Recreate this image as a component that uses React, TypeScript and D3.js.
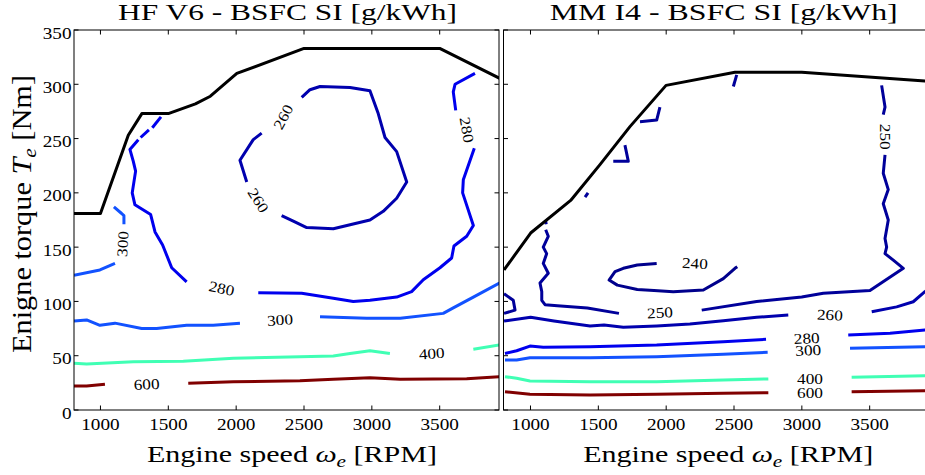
import React from "react";
import * as d3 from "d3";

type Pt = [number, number];

// ---------- axes ----------
const rpmTicks = [1000, 1500, 2000, 2500, 3000, 3500];
const torqueTicks = [0, 50, 100, 150, 200, 250, 300, 350];

// ---------- HF V6 ----------
const hfMaxTorque: Pt[] = [[805, 181], [1000, 181], [1205, 253], [1305, 273], [1500, 273], [1700, 282], [1810, 289], [2005, 310], [2500, 333], [3500, 333], [3950, 305]];
const hf260: Pt[][] = [
  [[2483, 288], [2544, 295], [2618, 298], [2839, 297], [2986, 294], [3047, 273], [3097, 251], [3183, 238], [3257, 210], [3183, 195], [3084, 183], [2986, 175], [2716, 167], [2520, 168], [2421, 174], [2335, 179]],
  [[2078, 210], [2028, 230], [2126, 249], [2188, 255]],
];
const hf280: Pt[][] = [
  [[1446, 270], [1382, 260]],
  [[1357, 258], [1296, 251]],
  [[1279, 249], [1217, 240], [1242, 229], [1259, 220], [1234, 200], [1254, 189], [1370, 180], [1402, 164], [1458, 152], [1525, 131], [1635, 118]],
  [[2163, 108], [2483, 107.5], [2716, 103], [2863, 100], [2986, 101], [3183, 104], [3293, 109], [3379, 120], [3502, 131], [3588, 140], [3605, 151], [3699, 160], [3748, 170], [3669, 200], [3674, 212], [3755, 241]],
  [[3618, 276], [3600, 293], [3613, 300], [3760, 310]],
];
const hf300: Pt[][] = [
  [[1099, 187], [1156, 181], [1173, 179], [1173, 171]],
  [[1107, 135], [996, 129], [805, 124]],
  [[805, 82], [898, 83], [996, 78], [1107, 80], [1304, 75], [1414, 75], [1635, 78], [1831, 78], [2028, 80]],
  [[2618, 86], [2962, 84.5], [3209, 84.5], [3526, 89], [3600, 94], [3748, 104], [3940, 117]],
];
const hf400: Pt[][] = [
  [[805, 43], [898, 42.4], [1242, 44.5], [1610, 45], [1979, 47.6], [2470, 49], [2716, 49.7], [2839, 52], [2986, 54.6], [3133, 52]],
  [[3748, 56], [3940, 60]],
];
const hf600: Pt[][] = [
  [[805, 22], [898, 22], [1033, 23.7]],
  [[1647, 24.6], [1979, 26], [2470, 27], [2716, 28.3], [2986, 29.8], [3209, 28.3], [3699, 28.8], [3940, 30.7]],
];
const hfLabelText = ["260", "260", "280", "300", "280", "300", "400", "600"];
const hfLabelRpm = [2347, 2163, 3699, 1164, 1893, 2323, 3441, 1340];
const hfLabelTorque = [270, 193, 258, 153, 112, 83, 52, 23.7];
const hfLabelAngle = [-62, 58, 80, -86, 12, -4, -4, -3];

// ---------- MM I4 ----------
const mmMaxTorque: Pt[] = [[805, 129], [1001, 163], [1296, 193], [1512, 226], [1733, 261], [1999, 299], [2507, 311], [2999, 311], [3907, 303], [4040, 302]];
const mm240: Pt[][] = [
  [[1930, 135], [1787, 133.5], [1684, 130.5], [1623, 127.4], [1579, 119.7], [1640, 115], [1787, 111], [1910, 110], [2052, 109], [2274, 110.5], [2421, 121], [2507, 130.5], [2524, 132]],
];
const mm250: Pt[][] = [
  [[1110, 175], [1116, 171]],
  [[1112, 166], [1131, 160], [1094, 150], [1119, 144], [1094, 135], [1131, 126], [1070, 117], [1083, 109], [1083, 101], [1107, 97], [1198, 96], [1419, 94], [1652, 89]],
  [[2262, 92], [2667, 100], [2999, 104], [3158, 107.5], [3502, 110], [3748, 130.5], [3674, 138], [3613, 144], [3625, 150], [3613, 158], [3637, 175], [3600, 190], [3637, 203], [3600, 218], [3613, 235]],
  [[3600, 272], [3613, 279], [3588, 299]],
  [[1402, 196], [1424, 200]],
  [[1696, 244], [1721, 229], [1610, 229]],
  [[1954, 279], [1930, 267], [1807, 265.5]],
  [[2520, 308.6], [2495, 298]],
  [[805, 107], [873, 101], [886, 92], [805, 89]],
];
const mm260: Pt[][] = [
  [[805, 82], [1001, 85.4], [1173, 82], [1439, 77.4], [1542, 78.3], [1684, 76.2], [1930, 77.4], [2175, 79.2], [2421, 82.2], [2667, 85.4], [2900, 87.5]],
  [[3515, 90.5], [3699, 95], [3821, 99.7], [3907, 109], [4000, 117]],
];
const mm280: Pt[][] = [
  [[812, 52], [898, 54.6], [996, 58.9], [1094, 57.7], [1439, 58.3], [1930, 59.9], [2421, 62.9], [2736, 65.1]],
  [[3342, 69], [3650, 70.6], [3907, 73.7], [4040, 75]],
];
const mm300: Pt[][] = [
  [[812, 46], [898, 46], [996, 48.2], [1439, 48.2], [1930, 49.1], [2421, 51.3], [2748, 53.1]],
  [[3355, 56.8], [3907, 58.3], [4040, 58.5]],
];
const mm400: Pt[][] = [
  [[812, 30.7], [898, 29.2], [996, 26.7], [1439, 26.1], [1930, 26.1], [2421, 27.6], [2753, 28.6]],
  [[3367, 30.1], [3907, 31.6], [4040, 32]],
];
const mm600: Pt[][] = [
  [[812, 16.9], [996, 14.5], [1439, 13.8], [1930, 14.5], [2421, 15.4], [2753, 15.9]],
  [[3367, 16.9], [3907, 17.8], [4040, 18]],
];
const mmLabelText = ["240", "250", "260", "280", "300", "400", "600", "250"];
const mmLabelRpm = [2212, 1954, 3207, 3036, 3047, 3060, 3060, 3613];
const mmLabelTorque = [135, 89.6, 87.5, 66, 55, 28.6, 15.9, 251.7];
const mmLabelAngle = [3, -3, 3, -3, -3, 0, 0, 90];

// ---------- styles ----------
const levelColor: Record<number, string> = {
  240: "#00008C",
  250: "#00009A",
  260: "#0000AE",
  280: "#0000EE",
  300: "#1252FF",
  400: "#40FFB4",
  600: "#800000",
};
const FONT = "'Liberation Serif', 'Times New Roman', serif";

type Label = { text: string; rpm: number; T: number; angle: number };
const zipLabels = (t: string[], r: number[], v: number[], a: number[]): Label[] =>
  t.map((s, i) => ({ text: s, rpm: r[i], T: v[i], angle: a[i] }));

interface PanelProps {
  id: string;
  left: number;
  right: number;
  domain: [number, number];
  title: string;
  titleLen: number;
  contours: { level: number; pieces: Pt[][] }[];
  labels: Label[];
  maxTorque: Pt[];
  showY: boolean;
}

function Panel(p: PanelProps) {
  const top = 30, bottom = 410;
  const x = d3.scaleLinear().domain(p.domain).range([p.left, p.right]);
  const y = d3.scaleLinear().domain([0, 350]).range([bottom, top]);
  const line = d3.line<Pt>().x((d) => x(d[0])).y((d) => y(d[1]));
  const cx = (p.left + p.right) / 2;
  const tl = 4.5;
  return (
    <g>
      <defs>
        <clipPath id={p.id}>
          <rect x={p.left} y={top} width={p.right - p.left} height={bottom - top} />
        </clipPath>
      </defs>
      <g clipPath={`url(#${p.id})`}>
        {p.contours.map((c) =>
          c.pieces.map((pc, i) => (
            <path key={`${c.level}-${i}`} d={line(pc) || ""} fill="none" stroke={levelColor[c.level]} strokeWidth={3} strokeLinejoin="round" />
          ))
        )}
        <path d={line(p.maxTorque) || ""} fill="none" stroke="#000" strokeWidth={3} strokeLinejoin="round" />
        {p.labels.map((l, i) => (
          <text key={i} transform={`translate(${x(l.rpm)},${y(l.T)}) rotate(${l.angle}) scale(1.15,1)`} textAnchor="middle" dominantBaseline="central" fontSize={15} fontFamily={FONT} fill="#000">
            {l.text}
          </text>
        ))}
      </g>
      <rect x={p.left} y={top} width={p.right - p.left} height={bottom - top} fill="none" stroke="#000" strokeWidth={1} />
      {rpmTicks.map((t) => (
        <g key={`x${t}`}>
          <line x1={x(t)} x2={x(t)} y1={bottom} y2={bottom - tl} stroke="#000" />
          <line x1={x(t)} x2={x(t)} y1={top} y2={top + tl} stroke="#000" />
          <text transform={`translate(${x(t)},430) scale(1.2,1)`} textAnchor="middle" fontSize={16} fontFamily={FONT}>
            {t}
          </text>
        </g>
      ))}
      {torqueTicks.map((t) => (
        <g key={`y${t}`}>
          <line x1={p.left} x2={p.left + tl} y1={y(t)} y2={y(t)} stroke="#000" />
          <line x1={p.right} x2={p.right - tl} y1={y(t)} y2={y(t)} stroke="#000" />
          {p.showY && (
            <text transform={`translate(${p.left - 2.5},${y(t) + 8.5}) scale(1.2,1)`} textAnchor="end" fontSize={16} fontFamily={FONT}>
              {t}
            </text>
          )}
        </g>
      ))}
      <text x={cx + 1} y={20} textAnchor="middle" fontSize={24} fontFamily={FONT} textLength={p.titleLen} lengthAdjust="spacingAndGlyphs">
        {p.title}
      </text>
      <text x={cx + 5.5} y={462} textAnchor="middle" fontSize={24} fontFamily={FONT} textLength={290} lengthAdjust="spacingAndGlyphs">
        Engine speed <tspan fontStyle="italic">ω</tspan>
        <tspan fontStyle="italic" fontSize={17} dy={5}>e</tspan>
        <tspan dy={-5}> [RPM]</tspan>
      </text>
      {p.showY && (
        <text transform="translate(31,214) rotate(-90)" textAnchor="middle" fontSize={27} fontFamily={FONT} textLength={278} lengthAdjust="spacingAndGlyphs">
          Enigne torque <tspan fontStyle="italic">T</tspan>
          <tspan fontStyle="italic" fontSize={19} dy={5}>e</tspan>
          <tspan dy={-5}> [Nm]</tspan>
        </text>
      )}
    </g>
  );
}

export default function App() {
  const hfContours = [
    { level: 260, pieces: hf260 },
    { level: 280, pieces: hf280 },
    { level: 300, pieces: hf300 },
    { level: 400, pieces: hf400 },
    { level: 600, pieces: hf600 },
  ];
  const mmContours = [
    { level: 240, pieces: mm240 },
    { level: 250, pieces: mm250 },
    { level: 260, pieces: mm260 },
    { level: 280, pieces: mm280 },
    { level: 300, pieces: mm300 },
    { level: 400, pieces: mm400 },
    { level: 600, pieces: mm600 },
  ];
  return (
    <svg width={925} height={475} style={{ position: "absolute", left: 0, top: 0, background: "#fff" }}>
      <rect x={0} y={0} width={925} height={475} fill="#fff" />
      <Panel
        id="clipHF"
        left={74}
        right={499}
        domain={[805, 3937]}
        title="HF V6 - BSFC SI [g/kWh]"
        titleLen={339}
        contours={hfContours}
        labels={zipLabels(hfLabelText, hfLabelRpm, hfLabelTorque, hfLabelAngle)}
        maxTorque={hfMaxTorque}
        showY={true}
      />
      <Panel
        id="clipMM"
        left={503.5}
        right={942}
        domain={[801, 4033]}
        title="MM I4 - BSFC SI [g/kWh]"
        titleLen={348}
        contours={mmContours}
        labels={zipLabels(mmLabelText, mmLabelRpm, mmLabelTorque, mmLabelAngle)}
        maxTorque={mmMaxTorque}
        showY={false}
      />
    </svg>
  );
}
